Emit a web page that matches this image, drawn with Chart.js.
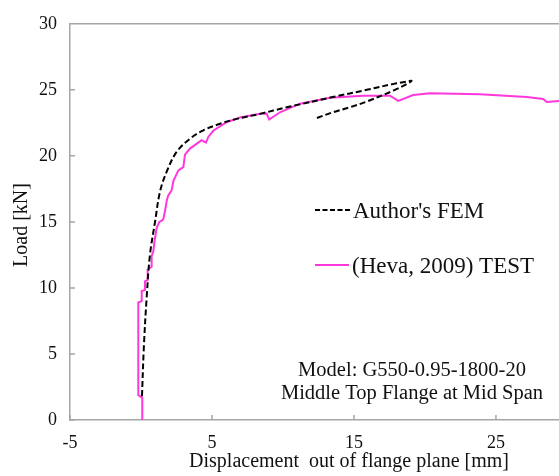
<!DOCTYPE html>
<html>
<head>
<meta charset="utf-8">
<script src="https://cdn.jsdelivr.net/npm/chart.js@4"></script>
<style>
  html, body { margin: 0; padding: 0; background: #fff; }
  #wrap { width: 559px; height: 476px; }
</style>
</head>
<body>
<div id="wrap"><canvas id="loadChart" width="559" height="476"></canvas></div>
<script>
// Author's FEM curve (load vs displacement)
var femX = [0.07, 0.2, 0.4, 0.63, 0.99, 1.34, 1.81, 2.51, 3.45, 4.39, 5.56, 6.74, 8.38, 10.26, 11.2, 13.5, 15.9, 17.8, 18.7, 19.06, 18.71, 17.77, 15.89, 14.72, 13.54, 12.37];
var femY = [1.8, 5.5, 9.3, 12.5, 15.0, 17.3, 18.8, 20.3, 21.3, 21.93, 22.43, 22.8, 23.18, 23.68, 23.9, 24.45, 25.0, 25.45, 25.62, 25.69, 25.44, 24.94, 24.11, 23.68, 23.31, 22.86];

// (Heva, 2009) test curve
var testX = [0.09, 0.09, -0.19, -0.19, 0.05, 0.05, 0.28, 0.28, 0.47, 0.47, 0.75, 0.75, 0.87, 0.95, 0.99, 1.1, 1.29, 1.46, 1.57, 1.69, 1.81, 1.92, 2.04, 2.16, 2.28, 2.63, 2.98, 3.1, 3.45, 4.27, 4.58, 4.74, 5.09, 6.03, 6.97, 8.38, 8.85, 9.03, 9.79, 11.2, 13.3, 15.65, 17.54, 18.12, 19.17, 20.35, 23.87, 27.16, 28.33, 28.57, 29.44];
var testY = [0, 1.7, 1.88, 8.9, 9.0, 9.77, 9.85, 10.5, 10.6, 11.4, 11.6, 12.4, 12.8, 13.5, 13.78, 14.53, 15.0, 15.1, 15.2, 15.8, 16.6, 17.0, 17.2, 17.4, 18.1, 18.9, 19.15, 20.1, 20.55, 21.18, 21.0, 21.43, 21.9, 22.55, 22.9, 23.18, 23.2, 22.75, 23.3, 23.95, 24.4, 24.56, 24.55, 24.16, 24.61, 24.74, 24.66, 24.46, 24.31, 24.08, 24.16];

// tick labels
var xTicks = [-5, 5, 15, 25];
var yTicks = [0, 5, 10, 15, 20, 25, 30];

var seriesNames = ["Author's FEM", "(Heva, 2009) TEST"];
var modelText = ["Model: G550-0.95-1800-20", "Middle Top Flange at Mid Span"];
var xTitle = "Displacement  out of flange plane [mm]";

function toPoints(xs, ys) {
  var pts = [];
  for (var i = 0; i < xs.length; i++) pts.push({ x: xs[i], y: ys[i] });
  return pts;
}

var axisColor = "#a6a6a6";
var pink = "#ff38dc";
var serif = "'Liberation Serif', 'Times New Roman', serif";

// frame, inward ticks, legend and notes
var extrasPlugin = {
  id: "extras",
  afterDraw: function (chart) {
    var ctx = chart.ctx;
    var area = chart.chartArea;
    var xs = chart.scales.x, ys = chart.scales.y;
    ctx.save();
    ctx.strokeStyle = axisColor;
    ctx.lineWidth = 1.5;
    ctx.beginPath();
    ctx.moveTo(area.left, area.top);
    ctx.lineTo(area.right, area.top);
    xTicks.forEach(function (t) {
      var px = xs.getPixelForValue(t);
      ctx.moveTo(px, area.bottom);
      ctx.lineTo(px, area.bottom - 5);
    });
    yTicks.forEach(function (t) {
      var py = ys.getPixelForValue(t);
      ctx.moveTo(area.left, py);
      ctx.lineTo(area.left + 5, py);
    });
    ctx.stroke();

    // legend samples
    ctx.lineWidth = 2;
    ctx.strokeStyle = "#000";
    ctx.setLineDash([5, 2.5]);
    ctx.beginPath();
    ctx.moveTo(315, 210);
    ctx.lineTo(350, 210);
    ctx.stroke();
    ctx.setLineDash([]);
    ctx.strokeStyle = pink;
    ctx.beginPath();
    ctx.moveTo(315, 265);
    ctx.lineTo(349, 265);
    ctx.stroke();

    ctx.fillStyle = "#111";
    ctx.textBaseline = "alphabetic";
    ctx.textAlign = "left";
    ctx.font = "23px " + serif;
    ctx.fillText(seriesNames[0], 353, 218);
    ctx.fillText(seriesNames[1], 352, 273);

    ctx.textAlign = "center";
    ctx.font = "20.5px " + serif;
    ctx.fillText(modelText[0], 412, 376);
    ctx.fillText(modelText[1], 412, 399);

    ctx.font = "20px " + serif;
    ctx.fillText(xTitle, 349, 467);

    // y title
    ctx.translate(22, 225);
    ctx.rotate(-Math.PI / 2);
    ctx.textBaseline = "middle";
    ctx.fillText("Load [kN]", 0, 0);
    ctx.restore();
  }
};

var loadChart = new Chart(document.getElementById("loadChart"), {
  type: "scatter",
  data: {
    datasets: [{
      label: seriesNames[0],
      data: toPoints(femX, femY),
      showLine: true,
      borderColor: "#000",
      borderWidth: 2,
      borderDash: [6, 3],
      pointRadius: 0,
      tension: 0.35
    }, {
      label: seriesNames[1],
      data: toPoints(testX, testY),
      showLine: true,
      borderColor: pink,
      borderWidth: 2,
      pointRadius: 0,
      tension: 0
    }]
  },
  plugins: [extrasPlugin],
  options: {
    responsive: false,
    animation: false,
    events: [],
    layout: { padding: { top: 21, right: 0, left: 0, bottom: 0 } },
    plugins: { legend: { display: false }, tooltip: { enabled: false } },
    scales: {
      x: {
        type: "linear",
        min: -5,
        max: 29.44,
        afterBuildTicks: function (scale) {
          scale.ticks = xTicks.map(function (v) { return { value: v }; });
        },
        afterFit: function (scale) { scale.height = 56; },
        border: { color: axisColor, width: 1.5 },
        grid: { display: false, drawTicks: false },
        ticks: { color: "#111", padding: 12, maxRotation: 0, font: { family: serif, size: 18 } }
      },
      y: {
        min: 0,
        max: 30,
        afterBuildTicks: function (scale) {
          scale.ticks = yTicks.map(function (v) { return { value: v }; });
        },
        afterFit: function (scale) { scale.width = 70; },
        border: { color: axisColor, width: 1.5 },
        grid: { display: false, drawTicks: false },
        ticks: { color: "#111", padding: 13, font: { family: serif, size: 18 } }
      }
    }
  }
});
</script>
</body>
</html>
